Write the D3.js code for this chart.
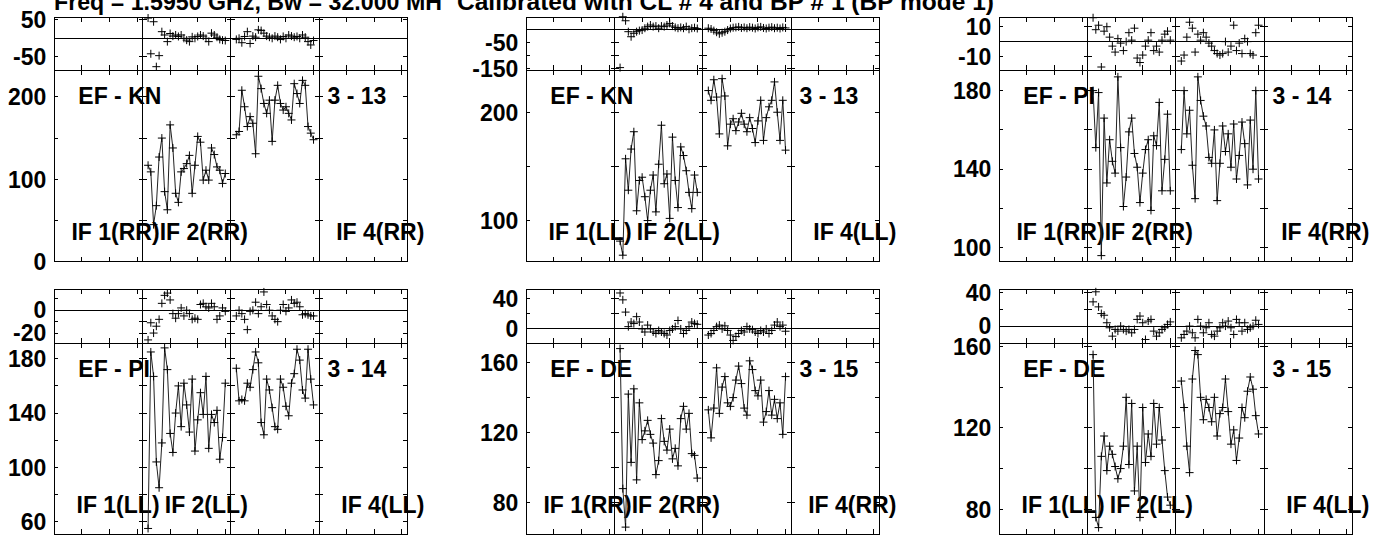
<!DOCTYPE html>
<html>
<head>
<meta charset="utf-8">
<script src="https://cdn.jsdelivr.net/npm/d3@7"></script>
<style>
    body { margin: 0; background: #fff; }
    svg { display: block; font-family: "Liberation Sans", Arial, sans-serif; font-weight: bold; }
</style>
</head>
<body>
<div id="chart"></div>
<script>
// ---- data ----
const titleParts = ["Freq = 1.5950 GHz, Bw = 32.000 MH", "Calibrated with CL # 4 and BP # 1 (BP mode 1)"];
const baselines = ["EF - KN", "EF - KN", "EF - PI", "EF - PI", "EF - DE", "EF - DE"];
const timeLabels = ["3 - 13", "3 - 13", "3 - 14", "3 - 14", "3 - 15", "3 - 15"];
const pols = ["RR", "LL", "RR", "LL", "RR", "LL"];
const ifLabels = ["IF 1", "IF 2", "", "IF 4"];
const chanPerIf = 32;
const chanTicks = [10, 20, 30];
const channels = [2, 3, 4, 5, 6, 7, 8, 9, 10, 11, 12, 13, 14, 15, 16, 17, 18, 19, 20,
    21, 22, 23, 24, 25, 26, 27, 28, 29, 30];

// EF-KN RR
const knRrPhaseIf2 = [55, -42, 45, -77, -47, 18, 9, -9, 13, 6, 9, 5, 9, 0, -5, -9, 4, 0, 5, 9, 6, 0, -9, 14, 9, 3, -3, -5, -6];
const knRrPhaseIf3 = [-3, 0, -12, 5, 18, -14, 6, 3, 23, 21, 14, 6, 3, 0, 6, 3, -3, 5, 0, 9, 6, 3, 5, 0, 9, 3, -9, -18, -6];
const knRrAmpIf2 = [117, 109, 45, 68, 127, 150, 85, 63, 166, 138, 83, 72, 109, 113, 119, 129, 83, 117, 152, 145, 99, 111, 99, 138, 130, 115, 111, 95, 107];
const knRrAmpIf3 = [154, 158, 208, 188, 164, 176, 168, 131, 225, 210, 192, 180, 196, 146, 196, 214, 192, 184, 188, 180, 172, 216, 204, 192, 220, 214, 164, 156, 148];
// EF-KN LL
const knLlPhaseIf2 = [-145, 46, 31, -10, -29, -16, -10, -6, -4, 3, 9, 15, 9, 11, 3, 11, 9, 15, 21, 11, 6, 3, 6, 3, 9, -1, 3, 5, 2];
const knLlPhaseIf3 = [3, 0, -6, -12, -18, -14, -10, -4, 2, 5, 6, 8, 4, 6, 3, 7, 5, 2, 6, 8, 4, 2, 5, 7, 3, 5, 2, 6, 4];
const knLlAmpIf2 = [81, 68, 157, 128, 166, 182, 109, 137, 140, 122, 100, 128, 142, 108, 152, 188, 134, 143, 102, 177, 137, 112, 168, 160, 146, 126, 111, 142, 126];
const knLlAmpIf3 = [220, 211, 230, 214, 180, 231, 215, 169, 189, 194, 183, 191, 199, 189, 182, 195, 185, 172, 192, 211, 174, 195, 205, 211, 228, 200, 174, 211, 165];
// EF-PI RR
const piRrPhaseIf2 = [16, 8, 11, -17, 7, 10, 3, -3, -7, 2, -1, -6, 0, 6, 1, 9, -11, -14, -9, -3, 1, 6, -6, -3, -7, 1, 5, 7, 1];
const piRrPhaseIf3 = [-13, -9, 3, 13, 9, -7, 5, 1, 6, 3, -1, -3, -6, -8, -9, -8, 0, -7, -3, 11, -6, -1, -8, 2, 0, -8, -9, 6, 11];
const piRrAmpIf2 = [180, 151, 179, 96, 166, 133, 155, 144, 138, 187, 151, 121, 136, 159, 166, 148, 141, 123, 138, 150, 155, 119, 157, 152, 174, 129, 145, 168, 129];
const piRrAmpIf3 = [150, 180, 158, 170, 142, 125, 187, 175, 167, 162, 146, 143, 160, 124, 143, 162, 149, 158, 141, 163, 135, 147, 164, 153, 132, 165, 140, 180, 135];
// EF-PI LL
const piLlPhaseIf2 = [-26, -11, -20, -14, -8, 6, 13, 15, 9, -3, -7, -3, 2, -5, 0, -3, -8, -7, -8, 5, 6, 3, 2, 6, 3, -8, -5, 2, -1];
const piLlPhaseIf3 = [-5, 0, -3, -8, -17, -1, 0, 7, -3, 3, 16, 5, 0, -5, -8, -10, 0, 5, -1, 2, 9, 6, 7, 3, -4, -3, -4, -5, -5];
const piLlAmpIf2 = [55, 185, 167, 104, 85, 118, 188, 172, 125, 111, 140, 160, 130, 162, 146, 126, 165, 112, 135, 155, 139, 167, 114, 139, 133, 142, 106, 122, 162];
const piLlAmpIf3 = [173, 149, 150, 149, 162, 159, 172, 185, 177, 133, 124, 165, 157, 144, 130, 128, 165, 159, 145, 138, 162, 169, 187, 179, 157, 151, 187, 165, 146];
// EF-DE RR
const deRrPhaseIf2 = [47, 38, 22, 3, 9, 7, 16, 9, 0, -4, 5, 0, -4, -6, -2, -4, -6, -8, -2, 0, 3, 11, 0, -6, -2, 3, 9, 7, 6];
const deRrPhaseIf3 = [-8, -6, -2, 3, 5, 0, 4, -2, -8, -15, -10, -6, -2, -4, 3, 0, -1, -4, -6, -2, -4, 0, -6, -2, 5, 9, 3, 5, -3];
const deRrAmpIf2 = [168, 88, 66, 142, 103, 145, 93, 137, 116, 121, 127, 119, 114, 96, 104, 128, 115, 110, 122, 105, 111, 101, 128, 135, 122, 131, 108, 107, 94];
const deRrAmpIf3 = [133, 117, 134, 157, 131, 146, 152, 137, 135, 140, 150, 158, 148, 134, 130, 161, 156, 144, 141, 150, 126, 132, 144, 130, 139, 128, 137, 119, 152];
// EF-DE LL
const deLlPhaseIf2 = [29, 41, 23, 15, 13, 4, -2, -12, -4, -6, 0, -4, -6, -4, -8, -4, 8, 12, 4, -16, 6, 8, -6, -12, -8, -4, -2, 2, 5];
const deLlPhaseIf3 = [-14, -10, -6, 0, -8, -14, 8, 0, -8, -2, 4, -10, -12, -6, -2, 4, 0, 6, -2, -10, 8, 4, -6, 4, -4, -2, 0, 7, 2];
const deLlAmpIf2 = [156, 76, 71, 106, 116, 99, 111, 107, 101, 95, 100, 111, 135, 102, 132, 89, 111, 76, 130, 103, 117, 106, 132, 112, 130, 114, 99, 86, 82];
const deLlAmpIf3 = [143, 130, 111, 98, 144, 158, 156, 135, 124, 134, 130, 123, 135, 116, 127, 130, 144, 128, 112, 119, 104, 115, 130, 125, 138, 145, 139, 126, 117];

// axis ranges and ticks, one entry per panel
const phaseDomains = [[-86, 57], [-154, 44], [-19, 16.3], [-28.7, 18.3], [-18.4, 51.8], [-20.2, 44]];
const phaseTicks = [[-50, 0, 50], [-150, -100, -50, 0], [-10, 0, 10], [-20, -10, 0, 10], [0, 20, 40], [0, 20, 40]];
const phaseLabels = [[-50, 50], [-150, -50], [-10, 10], [-20, 0], [0, 40], [0, 40]];
const ampDomains = [[0, 232.6], [62, 239], [92.9, 190.5], [50.7, 191.6], [61.9, 171.2], [67.7, 161.7]];
const ampTicks = [[0, 50, 100, 150, 200], [100, 150, 200], [100, 120, 140, 160, 180],
    [60, 80, 100, 120, 140, 160, 180], [80, 100, 120, 140, 160], [80, 100, 120, 140, 160]];
const ampLabels = [[0, 100, 200], [100, 200], [100, 140, 180], [60, 100, 140, 180], [80, 120, 160], [80, 120, 160]];

const phaseIf2 = [knRrPhaseIf2, knLlPhaseIf2, piRrPhaseIf2, piLlPhaseIf2, deRrPhaseIf2, deLlPhaseIf2];
const phaseIf3 = [knRrPhaseIf3, knLlPhaseIf3, piRrPhaseIf3, piLlPhaseIf3, deRrPhaseIf3, deLlPhaseIf3];
const ampIf2 = [knRrAmpIf2, knLlAmpIf2, piRrAmpIf2, piLlAmpIf2, deRrAmpIf2, deLlAmpIf2];
const ampIf3 = [knRrAmpIf3, knLlAmpIf3, piRrAmpIf3, piLlAmpIf3, deRrAmpIf3, deLlAmpIf3];

// ---- layout ----
const width = 1386;
const height = 536;
const colLeft = [54.3, 526.3, 999.3];
const plotWidth = 353;
const rowTop = [17.3, 289.3];
const rowSplit = [70, 343];
const rowBottom = [261.7, 534.3];
const fontSize = "23px";

const svg = d3.select("#chart")
    .append("svg")
        .attr("width", width)
        .attr("height", height);

// title runs off the top edge, as in the original
[[54, 388], [457, 537]].forEach(([tx, len], k) => {
    svg.append("text")
        .attr("x", tx)
        .attr("y", 9.5)
        .attr("textLength", len)
        .attr("lengthAdjust", "spacingAndGlyphs")
        .style("font-size", "24px")
        .text(titleParts[k]);
});

const plus = (px, py) => `M${px - 4},${py}H${px + 4}M${px},${py - 4}V${py + 4}`;

baselines.forEach((bl, i) => {
    const col = i % 3;
    const row = Math.floor(i / 3);
    const left = colLeft[col];
    const right = left + plotWidth;
    const top = rowTop[row];
    const mid = rowSplit[row];
    const bottom = rowBottom[row];

    const x = d3.scaleLinear().domain([0, chanPerIf * 4]).range([left, right]);
    const yPh = d3.scaleLinear().domain(phaseDomains[i]).range([mid, top]);
    const yAmp = d3.scaleLinear().domain(ampDomains[i]).range([bottom, mid]);

    const g = svg.append("g");
    const bounds = d3.range(5).map(k => x(k * chanPerIf));

    const frame = g.append("g")
        .attr("stroke", "#000")
        .attr("stroke-width", 1)
        .attr("fill", "none")
        .attr("shape-rendering", "crispEdges");

    [[top, mid, yPh, phaseTicks[i]], [mid, bottom, yAmp, ampTicks[i]]].forEach(([y0, y1, y, ticks]) => {
        frame.append("rect")
            .attr("x", left)
            .attr("y", y0)
            .attr("width", right - left)
            .attr("height", y1 - y0);

        // IF boundaries
        frame.selectAll(null)
            .data(bounds.slice(1, 4))
            .enter().append("line")
                .attr("x1", d => d).attr("x2", d => d)
                .attr("y1", y0).attr("y2", y1);

        // y ticks on every boundary
        ticks.forEach(v => {
            bounds.forEach((bx, k) => {
                frame.append("line")
                    .attr("x1", k === 0 ? bx : bx - 4)
                    .attr("x2", k === 4 ? bx : bx + 4)
                    .attr("y1", y(v)).attr("y2", y(v));
            });
        });

        // channel ticks top and bottom
        d3.range(4).forEach(k => {
            chanTicks.forEach(c => {
                const cx = x(k * chanPerIf + c);
                frame.append("line")
                    .attr("x1", cx).attr("x2", cx)
                    .attr("y1", y0).attr("y2", y0 + 5);
                frame.append("line")
                    .attr("x1", cx).attr("x2", cx)
                    .attr("y1", y1).attr("y2", y1 - 5);
            });
        });
    });

    // zero phase line
    frame.append("line")
        .attr("x1", left).attr("x2", right)
        .attr("y1", yPh(0)).attr("y2", yPh(0));

    // tick labels
    const labelG = g.append("g")
        .attr("text-anchor", "end")
        .style("font-size", fontSize);
    [[phaseLabels[i], yPh], [ampLabels[i], yAmp]].forEach(([labels, y]) => {
        labelG.selectAll(null)
            .data(labels)
            .enter().append("text")
                .attr("x", left - 8)
                .attr("y", d => y(d))
                .attr("dy", "0.36em")
                .text(d => d);
    });

    // panel annotations
    g.append("text")
        .attr("x", left + 24)
        .attr("y", mid + 34)
        .style("font-size", fontSize)
        .text(bl);
    g.append("text")
        .attr("x", right - 21)
        .attr("y", mid + 34)
        .attr("text-anchor", "end")
        .style("font-size", fontSize)
        .text(timeLabels[i]);
    ifLabels.forEach((name, k) => {
        if (!name) return;
        g.append("text")
            .attr("x", bounds[k + 1] + 17)
            .attr("y", bottom - 21.5)
            .attr("text-anchor", "end")
            .style("font-size", fontSize)
            .text(`${name}(${pols[i]})`);
    });

    // data: IF 2 and IF 3
    [[phaseIf2[i], ampIf2[i], 1], [phaseIf3[i], ampIf3[i], 2]].forEach(([ph, amp, k]) => {
        const cx = c => x(k * chanPerIf + c);
        const phPts = channels.map((c, j) => [cx(c), yPh(ph[j])]);
        const ampPts = channels.map((c, j) => [cx(c), yAmp(amp[j])]);

        g.append("path")
            .attr("d", d3.line()(ampPts))
            .attr("fill", "none")
            .attr("stroke", "#222")
            .attr("stroke-width", 1);

        g.append("path")
            .attr("d", phPts.concat(ampPts).map(p => plus(p[0], p[1])).join(""))
            .attr("fill", "none")
            .attr("stroke", "#000")
            .attr("stroke-width", 1);
    });
});
</script>
</body>
</html>
